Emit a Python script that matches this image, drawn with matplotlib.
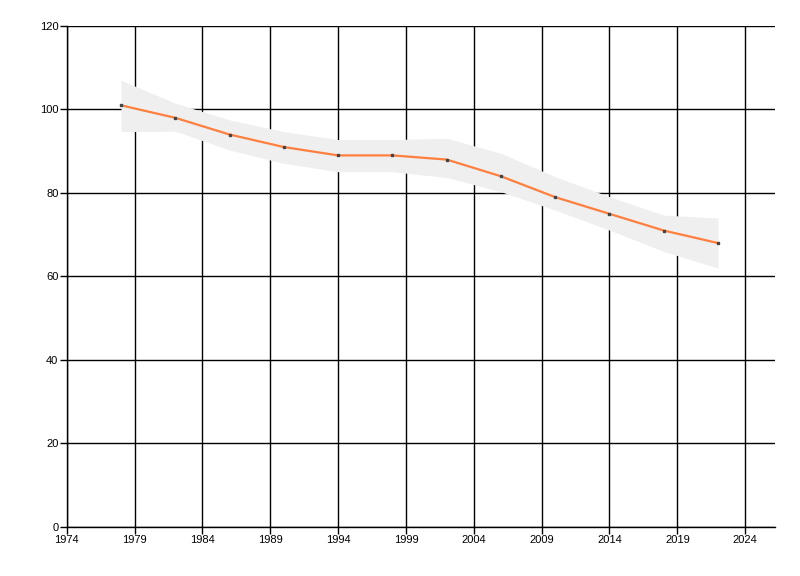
import matplotlib
matplotlib.use("Agg")
from matplotlib import pyplot as plt

# Data
years = [1978, 1982, 1986, 1990, 1994, 1998, 2002, 2006, 2010, 2014, 2018, 2022]
values = [101, 98, 94, 91, 89, 89, 88, 84, 79, 75, 71, 68]
upper = [107, 101.5, 97.5, 94.7, 92.8, 92.8, 93.1, 89.5, 83.9, 79.1, 74.7, 74]
lower = [94.7, 94.8, 90.3, 87.1, 85.1, 85.1, 83.7, 80.3, 75.9, 71.1, 66, 62]
x_ticks = list(range(1974, 2025, 5))
y_ticks = list(range(0, 121, 20))

plt.rcParams['font.family'] = ['Liberation Sans', 'DejaVu Sans']

fig = plt.figure(figsize=(8, 5.76), dpi=100)
ax = fig.add_axes([0.0834, 0.0851, 0.8854, 0.8698])

# Confidence band, then the line with small markers
ax.fill_between(years, lower, upper, color='#efefef', linewidth=0, zorder=2)
ax.plot(years, values, color='#ff7f3f', linewidth=1.6, zorder=3)
ax.plot(years, values, linestyle='none', marker='s', markersize=1.8,
        color='#444444', zorder=4)

ax.set_xlim(1974, 2026.2)
ax.set_ylim(0, 120)
ax.set_xticks(x_ticks)
ax.set_yticks(y_ticks)
ax.grid(True, color='black', linewidth=1, zorder=1)
ax.set_axisbelow(True)

for side in ['top', 'right']:
    ax.spines[side].set_visible(False)
for side in ['left', 'bottom']:
    ax.spines[side].set_linewidth(1)

ax.tick_params(axis='both', direction='out', length=5, width=1,
               labelsize=8, colors='black', pad=1)

fig.savefig('out.png', dpi=100, facecolor='white')
